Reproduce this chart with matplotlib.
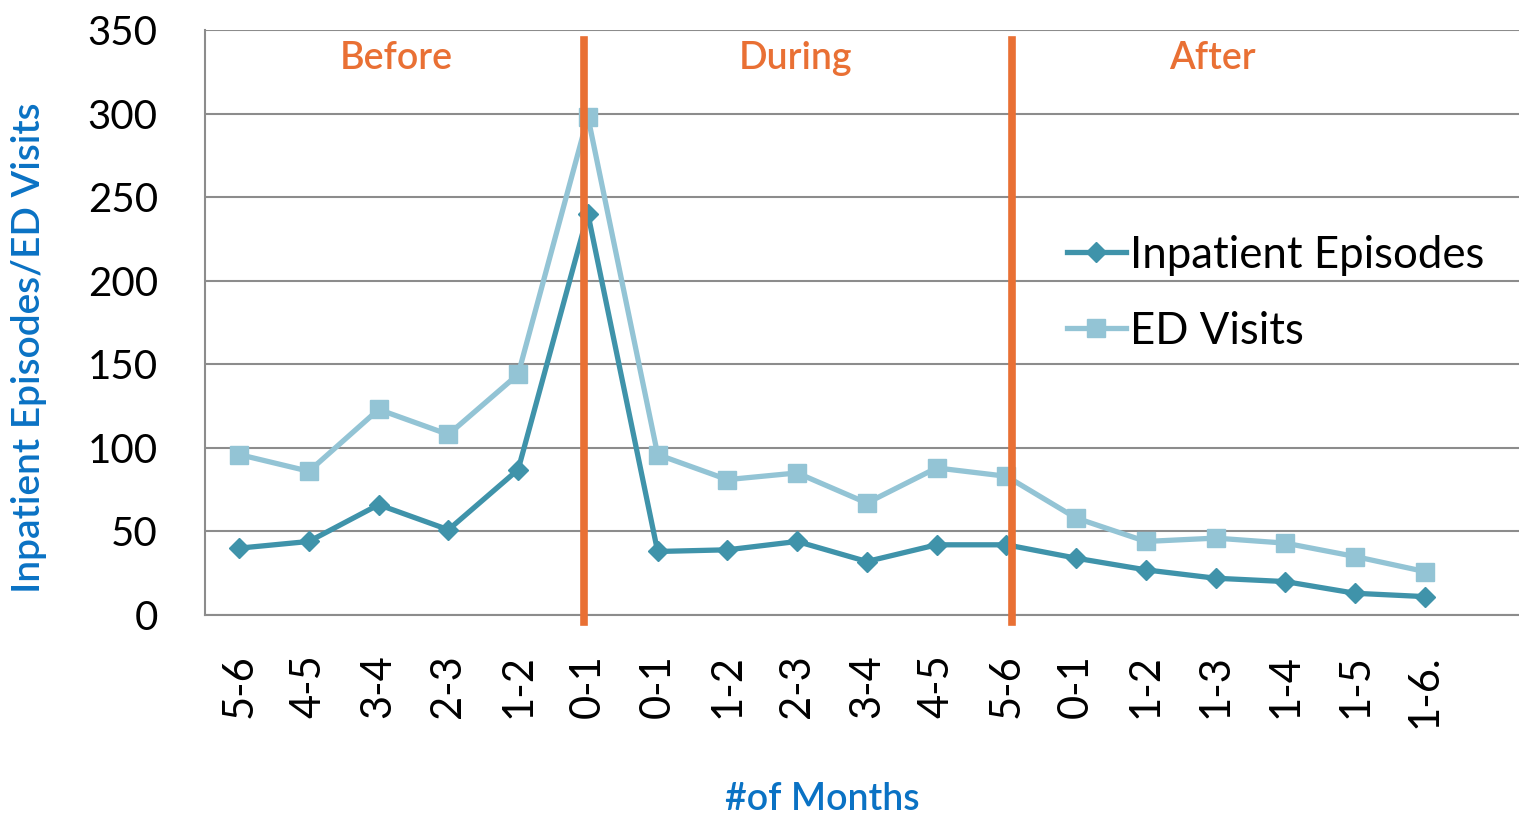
import matplotlib.pyplot as plt

plt.rcParams['font.family'] = ['Lato', 'DejaVu Sans']

# month windows relative to the intervention
months = ['5-6', '4-5', '3-4', '2-3', '1-2', '0-1',
          '0-1', '1-2', '2-3', '3-4', '4-5', '5-6',
          '0-1', '1-2', '1-3', '1-4', '1-5', '1-6.']
inpatient = [40, 44, 66, 51, 87, 240,
             38, 39, 44, 32, 42, 42,
             34, 27, 22, 20, 13, 11]
ed_visits = [96, 86, 123, 108, 144, 298,
             96, 81, 85, 67, 88, 83,
             58, 44, 46, 43, 35, 26]
phase_names = ['Before', 'During', 'After']
phase_x = [2.25, 7.98, 13.95]
phase_breaks = [4.95, 11.08]

dark = '#3F93AA'
light = '#93C4D5'
orange = '#E97034'
blue = '#0A72C4'

fig = plt.figure(figsize=(15.19, 8.17), dpi=100)
ax = fig.add_axes([205 / 1519, 202 / 817, 1.0 - 205 / 1519, 585 / 817])

x = list(range(len(months)))
ax.plot(x, inpatient, color=dark, lw=3.8, marker='D', ms=10,
        label='Inpatient Episodes', zorder=4)
ax.plot(x, ed_visits, color=light, lw=3.8, marker='s', ms=13,
        label='ED Visits', zorder=3)

for b in phase_breaks:
    ax.plot([b, b], [-4, 344], color=orange, lw=5.5, clip_on=False, zorder=5)
for name, px in zip(phase_names, phase_x):
    ax.text(px, 333, name, color=orange, fontsize=27, fontweight='semibold',
            ha='center', va='center')

ax.set_xlim(-0.49, 18.35)
ax.set_ylim(0, 350)
ax.set_yticks(range(0, 351, 50))
ax.yaxis.grid(True, color='#8C8C8C', lw=1.5)
ax.set_axisbelow(True)
ax.set_xticks(x)
ax.set_xticklabels(months, rotation=90, fontsize=30, va='top')
ax.tick_params(axis='x', length=0, pad=28)
ax.tick_params(axis='y', length=0, labelsize=29, pad=34)
for side in ['top', 'right']:
    ax.spines[side].set_visible(False)
for side in ['left', 'bottom']:
    ax.spines[side].set_color('#8C8C8C')
    ax.spines[side].set_linewidth(1.5)

ax.set_ylabel('Inpatient Episodes/ED Visits', color=blue, fontsize=28,
              fontweight='semibold')
ax.yaxis.set_label_coords(-0.12, 0.456)
fig.text(822 / 1519, 1 - 800 / 817, '#of Months', color=blue, fontsize=27,
         fontweight='semibold', ha='center', va='center')

ax.legend(loc='upper left', bbox_to_anchor=(1049 / 1519, 1 - 217 / 817),
          bbox_transform=fig.transFigure, frameon=False, fontsize=31.5,
          handlelength=1.35, handletextpad=0.1, labelspacing=0.8,
          borderaxespad=0)

fig.savefig('out.png', dpi=100)
